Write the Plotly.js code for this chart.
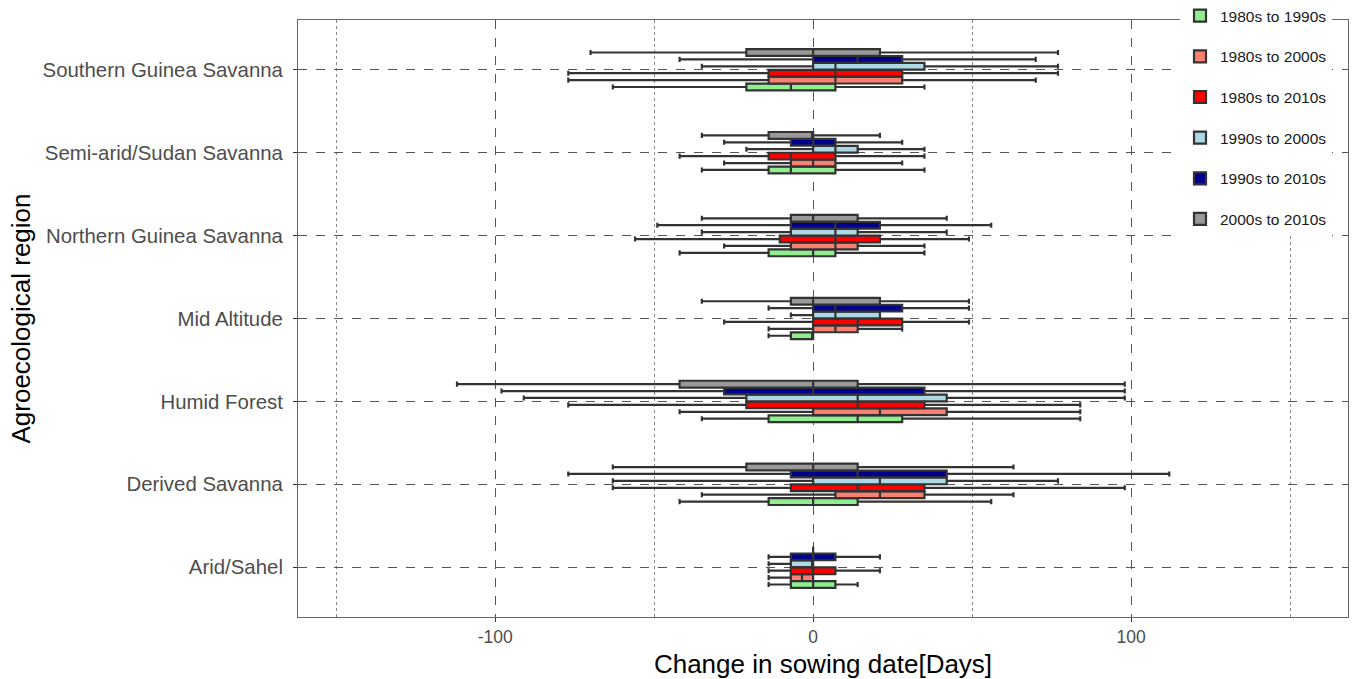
<!DOCTYPE html>
<html>
<head>
<meta charset="utf-8">
<script src="https://cdn.plot.ly/plotly-3.0.1.min.js"></script>
<style>html,body{margin:0;padding:0;background:#fff;}#chart{width:1353px;height:679px;}</style>
</head>
<body>
<div id="chart"></div>
<script>
// Regions, bottom to top
const regions = ['Arid/Sahel', 'Derived Savanna', 'Humid Forest', 'Mid Altitude',
  'Northern Guinea Savanna', 'Semi-arid/Sudan Savanna', 'Southern Guinea Savanna'];

const seriesNames = ['1980s to 1990s', '1980s to 2000s', '1980s to 2010s',
  '1990s to 2000s', '1990s to 2010s', '2000s to 2010s'];

const seriesColors = ['#90EE90', '#FA8072', '#FF0000', '#ADD8E6', '#00008B', '#999999'];

// five-number summaries per region: [lower whisker, Q1, median, Q3, upper whisker] (days)
const s1980_1990 = [[-14, -7, 0, 7, 14], [-42, -14, 0, 14, 56], [-35, -14, 14, 28, 84], [-14, -7, 0, 0, 0],
  [-42, -14, 0, 7, 35], [-35, -14, -7, 7, 35], [-63, -21, -7, 7, 35]];
const s1980_2000 = [[-14, -7, -3.5, 0, 0], [-35, 7, 21, 35, 63], [-42, 0, 21, 42, 84], [-14, 0, 7, 14, 28],
  [-28, -7, 7, 14, 35], [-28, -7, 0, 7, 28], [-77, -14, 7, 28, 70]];
const s1980_2010 = [[-14, -7, 0, 7, 21], [-63, -7, 14, 35, 98], [-77, -21, 14, 35, 84], [-28, 0, 14, 28, 49],
  [-56, -10.5, 7, 21, 49], [-42, -14, -7, 7, 35], [-77, -14, 7, 28, 77]];
const s1990_2000 = [[-14, -7, 0, 0, 0], [-63, 0, 21, 42, 77], [-91, -21, 14, 42, 98], [-7, 0, 7, 21, 21],
  [-35, -7, 7, 14, 42], [-21, 0, 7, 14, 35], [-35, 0, 7, 35, 77]];
const s1990_2010 = [[-14, -7, 0, 7, 21], [-77, -7, 14, 42, 112], [-98, -28, 0, 35, 98], [-14, 0, 7, 28, 49],
  [-49, -7, 7, 21, 56], [-28, -7, 0, 7, 28], [-42, 0, 14, 28, 70]];
const s2000_2010 = [[0, 0, 0, 0, 0], [-63, -21, 0, 14, 63], [-112, -42, 0, 14, 98], [-35, -7, 0, 21, 49],
  [-35, -7, 0, 14, 42], [-35, -14, 0, 0, 21], [-70, -21, 0, 21, 77]];

const allSeries = [s1980_1990, s1980_2000, s1980_2010, s1990_2000, s1990_2010, s2000_2010];

const FONT = 'Liberation Sans, Arial, sans-serif';

const traces = allSeries.map((s, i) => ({
  type: 'box',
  orientation: 'h',
  name: seriesNames[i],
  legendgroup: seriesNames[i],
  y: regions,
  lowerfence: s.map(r => r[0]),
  q1: s.map(r => r[1]),
  median: s.map(r => r[2]),
  q3: s.map(r => r[3]),
  upperfence: s.map(r => r[4]),
  boxpoints: false,
  fillcolor: seriesColors[i],
  line: {color: '#333333', width: 2.2},
  whiskerwidth: 0.75,
  hoverinfo: 'skip'
}));

const layout = {
  width: 1353,
  height: 679,
  margin: {l: 298, r: 5, t: 20, b: 62, autoexpand: false},
  paper_bgcolor: '#ffffff',
  plot_bgcolor: '#ffffff',
  font: {family: FONT, color: '#1a1a1a'},
  boxmode: 'group',
  boxgap: 0.5,
  boxgroupgap: 0.02,
  showlegend: true,
  legend: {
    x: 0.84, xanchor: 'left', y: 1.035, yanchor: 'top',
    bgcolor: '#ffffff',
    font: {family: FONT, size: 15.5, color: '#1a1a1a'},
    traceorder: 'grouped',
    tracegroupgap: 17.5
  },
  xaxis: {
    range: [-162, 168.2],
    tickvals: [-100, 0, 100],
    ticktext: ['-100', '0', '100'],
    showgrid: true,
    gridcolor: '#555555',
    gridwidth: 1.2,
    griddash: 'dash',
    zeroline: false,
    showline: true,
    mirror: true,
    linecolor: '#666666',
    linewidth: 1,
    ticks: 'outside',
    ticklen: 4,
    tickcolor: '#333333',
    tickfont: {family: FONT, size: 17.5, color: '#4d4d4d'},
    minor: {tickvals: [-150, -50, 50, 150], showgrid: true, gridcolor: '#8a8a8a', griddash: 'dot', gridwidth: 1, ticks: ''},
    title: {text: 'Change in sowing date[Days]', font: {family: FONT, size: 26, color: '#000000'}, standoff: 8}
  },
  yaxis: {
    type: 'category',
    categoryorder: 'array',
    categoryarray: regions,
    range: [-0.6, 6.6],
    showgrid: true,
    gridcolor: '#555555',
    gridwidth: 1.2,
    griddash: 'dash',
    zeroline: false,
    showline: true,
    mirror: true,
    linecolor: '#666666',
    linewidth: 1,
    ticks: 'outside',
    ticklen: 4,
    tickcolor: '#333333',
    ticklabelstandoff: 6,
    tickfont: {family: FONT, size: 20.4, color: '#4d4d4d'},
    title: {text: 'Agroecological region', font: {family: FONT, size: 26, color: '#000000'}, standoff: 4}
  }
};

Plotly.newPlot('chart', traces, layout, {displayModeBar: false, staticPlot: true});
</script>
</body>
</html>
